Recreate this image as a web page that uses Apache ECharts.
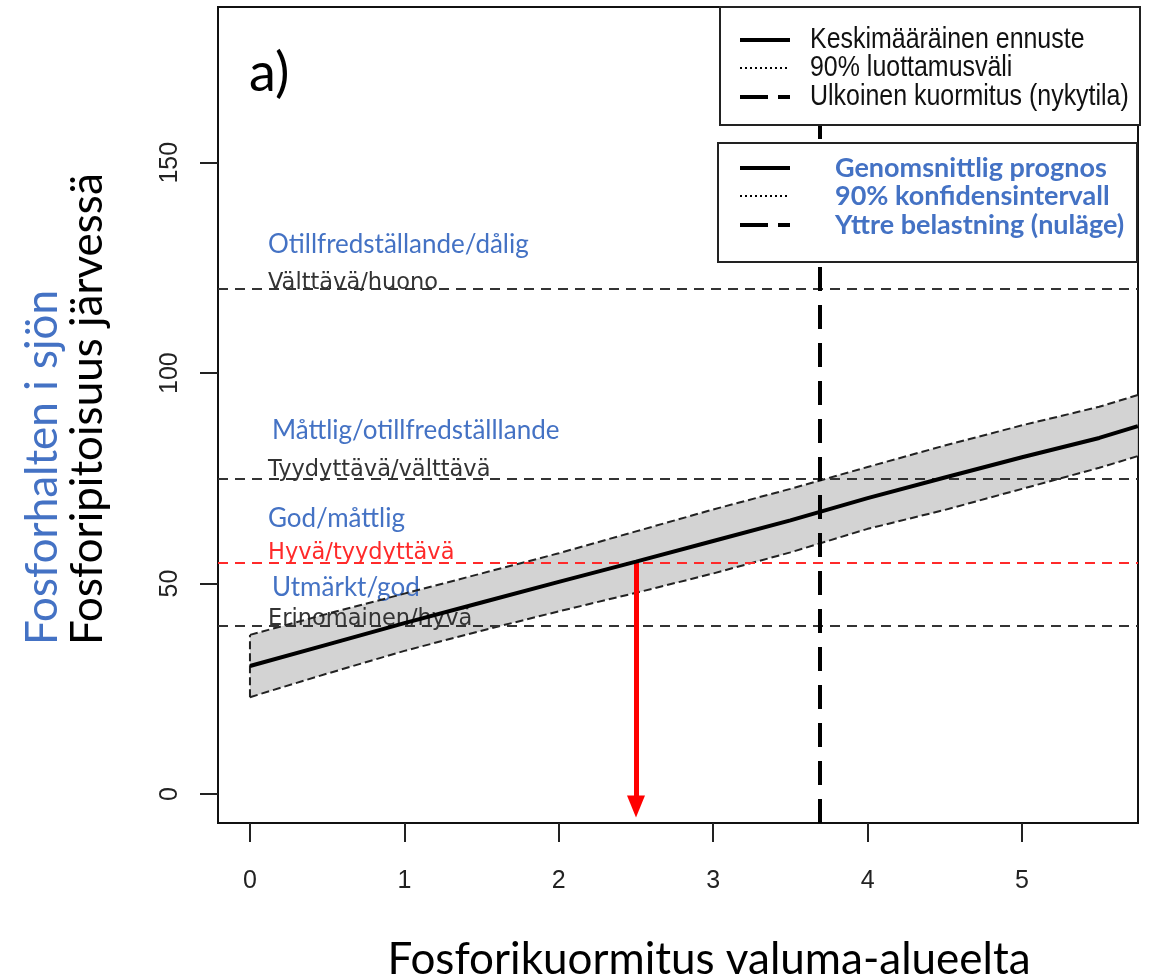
<!DOCTYPE html>
<html>
<head>
<meta charset="utf-8">
<script src="https://cdn.jsdelivr.net/npm/echarts@6/dist/echarts.min.js"></script>
<style>
html, body { margin: 0; padding: 0; background: #fff; }
#main { width: 1150px; height: 980px; }
</style>
</head>
<body>
<div id="main"></div>
<script>
// kuormitus (x) ja ennuste + 90% väli (y)
var loadX  = [0, 0.5, 1, 1.5, 2, 2.5, 3, 3.5, 4, 4.5, 5, 5.5, 5.75];
var meanP  = [30.4, 35.5, 40.6, 45.5, 50.4, 55.2, 60.1, 65.0, 70.3, 75.2, 80.0, 84.6, 87.4];
var upperP = [37.8, 42.8, 47.6, 52.4, 57.2, 62.4, 67.6, 72.5, 77.7, 82.8, 87.6, 92.0, 94.8];
var lowerP = [23.0, 28.6, 34.0, 38.8, 43.4, 47.8, 52.4, 57.4, 63.0, 67.5, 72.5, 77.5, 80.3];

// luokkarajat
var classLimits = [120, 75, 55, 40];
var classFi = ['Välttävä/huono', 'Tyydyttävä/välttävä', 'Hyvä/tyydyttävä', 'Erinomainen/hyvä'];
var classSv = ['Otillfredställande/dålig', 'Måttlig/otillfredställlande', 'God/måttlig', 'Utmärkt/god'];
var redLimit = 55;

var nowLoad = 3.69;      // ulkoinen kuormitus nyt
var targetLoad = 2.5;    // nuoli
var targetP = 55;
var arrowEnd = -3;

var xTicks = [0, 1, 2, 3, 4, 5];
var yTicks = [0, 50, 100, 150];

var legendFi = ['Keskimääräinen ennuste', '90% luottamusväli', 'Ulkoinen kuormitus (nykytila)'];
var legendSv = ['Genomsnittlig prognos', '90% konfidensintervall', 'Yttre belastning (nuläge)'];

var blue = '#4472C4';
var red = '#ff2a2a';
// tekstien pystysiirrot (px) luokkarajoista
var fiShift = [-6, -8, -9, -6];
var svShift = [-44, -48, -44, -38];

function pairs(xs, ys) {
    return xs.map(function (x, i) { return [x, ys[i]]; });
}

var chart = echarts.init(document.getElementById('main'));

// legend boxes drawn by hand (R style)
var sampleStyles = [
    { lineWidth: 4, lineDash: null },
    { lineWidth: 2, lineDash: [2, 3] },
    { lineWidth: 4, lineDash: [28, 10] }
];
var legendRows1 = [40, 68, 97];
var legendRows2 = [168, 196, 225];
var graphics = [
    { type: 'rect', z: 100, shape: { x: 720, y: 7, width: 420, height: 118 },
      style: { fill: '#fff', stroke: '#222', lineWidth: 2 } },
    { type: 'rect', z: 100, shape: { x: 718, y: 143, width: 419, height: 119 },
      style: { fill: '#fff', stroke: '#222', lineWidth: 2 } }
];
legendFi.forEach(function (t, i) {
    graphics.push({ type: 'line', z: 101, shape: { x1: 740, y1: legendRows1[i], x2: 790, y2: legendRows1[i] },
        style: { stroke: '#000', lineWidth: sampleStyles[i].lineWidth, lineDash: sampleStyles[i].lineDash } });
    graphics.push({ type: 'text', z: 101, x: 810, y: legendRows1[i], scaleX: 0.86,
        style: { text: t, fontFamily: 'Liberation Sans, Arial, sans-serif', fontSize: 29,
                 fill: '#111', verticalAlign: 'middle', align: 'left' } });
});
legendSv.forEach(function (t, i) {
    graphics.push({ type: 'line', z: 101, shape: { x1: 740, y1: legendRows2[i], x2: 790, y2: legendRows2[i] },
        style: { stroke: '#000', lineWidth: sampleStyles[i].lineWidth, lineDash: sampleStyles[i].lineDash } });
    graphics.push({ type: 'text', z: 101, x: 835, y: legendRows2[i],
        style: { text: t, fontFamily: 'Lato', fontWeight: 'bold', fontSize: 27,
                 fill: blue, verticalAlign: 'middle', align: 'left' } });
});
// otsikot
graphics.push({ type: 'text', x: 249, y: 74,
    style: { text: 'a)', fontFamily: 'Lato', fontSize: 54, fill: '#000', verticalAlign: 'middle' } });
graphics.push({ type: 'text', x: 709, y: 960,
    style: { text: 'Fosforikuormitus valuma-alueelta', fontFamily: 'Lato', fontSize: 44,
             fill: '#000', align: 'center', verticalAlign: 'middle' } });
graphics.push({ type: 'text', x: 43, y: 645, rotation: Math.PI / 2,
    style: { text: 'Fosforhalten i sjön', fontFamily: 'Lato', fontSize: 44,
             fill: blue, align: 'left', verticalAlign: 'middle' } });
graphics.push({ type: 'text', x: 88, y: 645, rotation: Math.PI / 2,
    style: { text: 'Fosforipitoisuus järvessä', fontFamily: 'Lato', fontSize: 44,
             fill: '#000', align: 'left', verticalAlign: 'middle' } });

var limitLines = classLimits.map(function (v) {
    var c = v === redLimit ? red : '#333';
    return { yAxis: v, lineStyle: { color: c, type: [10, 7], width: 2 } };
});

var dashEdge = { color: '#222', width: 2, type: [8, 4] };

option = {
    backgroundColor: '#fff',
    animation: false,
    grid: {
        left: 218, top: 7, width: 920, height: 816,
        show: true, borderColor: '#111', borderWidth: 2, backgroundColor: 'transparent'
    },
    xAxis: {
        type: 'value', min: -0.207, max: 5.751,
        axisLine: { show: false, onZero: false },
        splitLine: { show: false },
        axisTick: { show: true, length: 19, lineStyle: { color: '#222', width: 2 }, customValues: xTicks },
        axisLabel: { customValues: xTicks, margin: 46, fontSize: 25, color: '#222',
                     fontFamily: 'Liberation Sans, Arial, sans-serif' }
    },
    yAxis: {
        type: 'value', min: -6.9, max: 187,
        axisLine: { show: false, onZero: false },
        splitLine: { show: false },
        axisTick: { show: true, length: 18, lineStyle: { color: '#222', width: 2 }, customValues: yTicks },
        axisLabel: { customValues: yTicks, rotate: 90, margin: 35, fontSize: 25, color: '#222',
                     fontFamily: 'Liberation Sans, Arial, sans-serif' }
    },
    graphic: graphics,
    series: [
        {
            name: 'väli', type: 'custom', silent: true,
            data: [[loadX[0], meanP[0]]],
            renderItem: function (params, api) {
                var pts = [];
                for (var i = 0; i < loadX.length; i++) pts.push(api.coord([loadX[i], upperP[i]]));
                for (var j = loadX.length - 1; j >= 0; j--) pts.push(api.coord([loadX[j], lowerP[j]]));
                return { type: 'polygon', shape: { points: pts }, style: { fill: '#d3d3d3' } };
            }
        },
        {
            name: 'luokkarajat', type: 'line', data: [], silent: true,
            markLine: { symbol: 'none', silent: true, label: { show: false }, data: limitLines }
        },
        {
            name: 'yläraja', type: 'line', symbol: 'none', silent: true,
            data: pairs(loadX, upperP), lineStyle: dashEdge
        },
        {
            name: 'alaraja', type: 'line', symbol: 'none', silent: true,
            data: pairs(loadX, lowerP), lineStyle: dashEdge
        },
        {
            name: 'reuna', type: 'line', symbol: 'none', silent: true,
            data: [[loadX[0], lowerP[0]], [loadX[0], upperP[0]]], lineStyle: dashEdge
        },
        {
            name: 'fi', type: 'scatter', symbolSize: 0, silent: true,
            data: classLimits.map(function (v, i) {
                return { value: [0, v], name: classFi[i],
                         label: { offset: [0, fiShift[i]], color: v === redLimit ? red : '#333' } };
            }),
            label: {
                show: true, position: 'right', distance: 18,
                formatter: '{b}', fontFamily: 'DejaVu Sans', fontSize: 22.5
            },
            itemStyle: { color: 'transparent', opacity: 1 }
        },
        {
            name: 'sv', type: 'scatter', symbolSize: 0, silent: true,
            data: classLimits.map(function (v, i) {
                return { value: [0, v], name: classSv[i], label: { offset: [i % 2 ? 4 : 0, svShift[i]] } };
            }),
            label: {
                show: true, position: 'right', distance: 18,
                formatter: '{b}', fontFamily: 'Lato', fontSize: 26, color: blue
            },
            itemStyle: { color: 'transparent', opacity: 1 }
        },
        {
            name: 'ennuste', type: 'line', symbol: 'none', silent: true, z: 5,
            data: pairs(loadX, meanP), lineStyle: { color: '#000', width: 4 },
            markLine: {
                symbol: 'none', silent: true, label: { show: false },
                lineStyle: { color: '#000', width: 4, type: [24, 14] },
                data: [{ xAxis: nowLoad }]
            }
        },
        {
            name: 'nuoli', type: 'line', data: [], silent: true,
            markLine: {
                symbol: ['none', 'triangle'], symbolSize: [18, 22], silent: true, label: { show: false },
                lineStyle: { color: '#ff0000', width: 5, type: 'solid' },
                data: [[{ coord: [targetLoad, targetP] }, { coord: [targetLoad, arrowEnd] }]]
            }
        }
    ]
};

chart.setOption(option);
</script>
</body>
</html>
